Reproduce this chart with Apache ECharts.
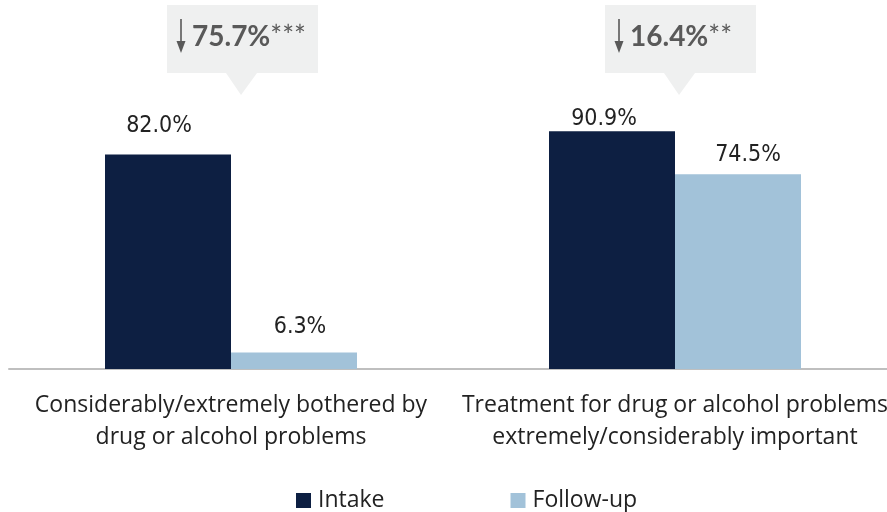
<!DOCTYPE html>
<html>
<head>
<meta charset="utf-8">
<script src="https://cdn.jsdelivr.net/npm/echarts@6/dist/echarts.min.js"></script>
<style>
  html, body { margin: 0; padding: 0; background: #ffffff; }
  #chart { width: 887px; height: 512px; }
</style>
</head>
<body>
<div id="chart"></div>
<script>
  var categories = [
    'Considerably/extremely bothered by\ndrug or alcohol problems',
    'Treatment for drug or alcohol problems\nextremely/considerably important'
  ];
  var intakeValues = [82.0, 90.9];
  var followupValues = [6.3, 74.5];
  var changeLabels = ['75.7%', '16.4%'];
  var changeStars = ['***', '**'];
  // label placement above each bar (the original places them a little unevenly)
  var intakeGap = [17, 1];
  var followupGap = [14, 8];
  var intakeShift = [-9, -8];
  var followupShift = [6, 10];

  var chart = echarts.init(document.getElementById('chart'));

  function calloutBox(x, label, stars) {
    return {
      type: 'group',
      left: x,
      top: 5,
      children: [
        { type: 'rect', shape: { x: 0, y: 0, width: 151, height: 68 }, style: { fill: '#eff0f0' } },
        { type: 'polygon', shape: { points: [[59, 68], [90, 68], [74, 90]] }, style: { fill: '#eff0f0' } },
        // thin down arrow
        { type: 'line', shape: { x1: 14, y1: 14, x2: 14, y2: 40 }, style: { stroke: '#595959', lineWidth: 1.6 } },
        { type: 'polygon', shape: { points: [[9.5, 36], [18.5, 36], [14, 48]] }, style: { fill: '#595959' } },
        {
          type: 'text', x: 25, y: 18,
          style: {
            text: '{b|' + label + '}{c|' + stars + '}',
            rich: {
              b: { fontSize: 28, fontFamily: 'Lato', fontWeight: 'bold', fill: '#595959' },
              c: { fontSize: 28, fontFamily: 'Lato', fill: '#595959', verticalAlign: 'top' }
            }
          }
        }
      ]
    };
  }

  function valueLabel(gap, shift) {
    return { distance: gap, offset: [shift, 0] };
  }

  var option = {
    backgroundColor: '#ffffff',
    animation: false,
    grid: { left: 9, width: 888, top: 107.5, height: 261.5, outerBoundsMode: 'none', containLabel: false },
    legend: {
      top: 484,
      left: 291,
      itemWidth: 15,
      itemHeight: 15,
      itemGap: 126,
      icon: 'rect',
      textStyle: { fontSize: 23, color: '#222222', fontFamily: 'Open Sans', padding: [0, 0, 0, 2] },
      data: ['Intake', 'Follow-up']
    },
    xAxis: {
      type: 'category',
      data: categories,
      axisLine: { lineStyle: { color: '#bfbfbf', width: 2 } },
      axisTick: { show: false },
      axisLabel: {
        interval: 0,
        margin: 20,
        fontSize: 23,
        lineHeight: 32,
        color: '#222222',
        fontFamily: 'Open Sans'
      }
    },
    yAxis: {
      type: 'value',
      min: 0,
      max: 100,
      show: false
    },
    series: [
      {
        name: 'Intake',
        type: 'bar',
        barWidth: 126,
        barGap: '0%',
        itemStyle: { color: '#0d1f42' },
        data: intakeValues.map(function (v, i) {
          return { value: v, label: valueLabel(intakeGap[i], intakeShift[i]) };
        }),
        label: {
          show: true,
          position: 'top',
          fontSize: 23,
          color: '#222222',
          fontFamily: 'DejaVu Sans Condensed',
          formatter: function (p) { return p.value.toFixed(1) + '%'; }
        }
      },
      {
        name: 'Follow-up',
        type: 'bar',
        barWidth: 126,
        barGap: '0%',
        itemStyle: { color: '#a2c2d9' },
        data: followupValues.map(function (v, i) {
          return { value: v, label: valueLabel(followupGap[i], followupShift[i]) };
        }),
        label: {
          show: true,
          position: 'top',
          fontSize: 23,
          color: '#222222',
          fontFamily: 'DejaVu Sans Condensed',
          formatter: function (p) { return p.value.toFixed(1) + '%'; }
        }
      }
    ],
    graphic: [
      calloutBox(167, changeLabels[0], changeStars[0]),
      calloutBox(605, changeLabels[1], changeStars[1])
    ]
  };

  chart.setOption(option);
</script>
</body>
</html>
